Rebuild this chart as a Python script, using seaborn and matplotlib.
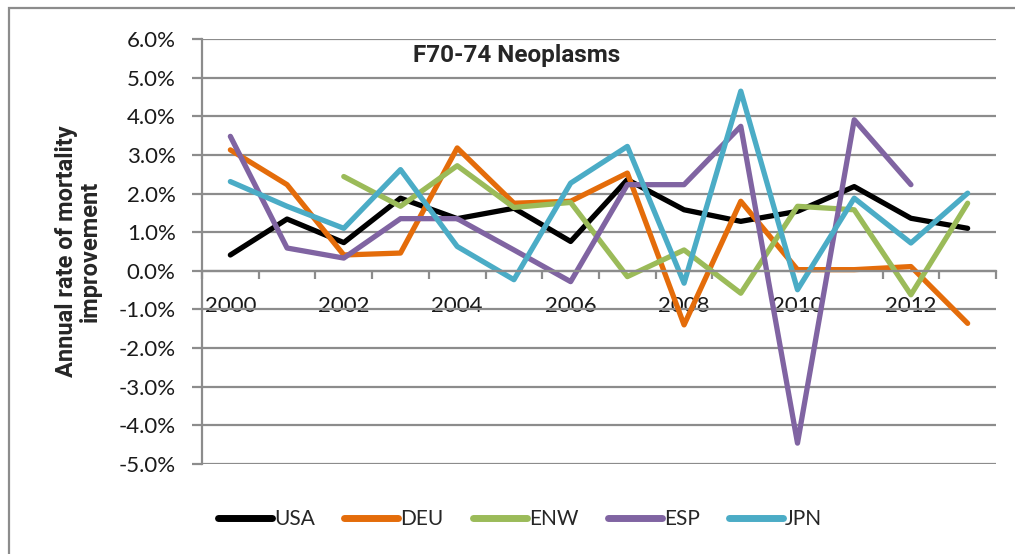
import numpy as np
import pandas as pd
import seaborn as sns
import matplotlib.pyplot as plt
from matplotlib.patches import Rectangle
from matplotlib.ticker import FuncFormatter, FixedLocator

years = list(range(2000, 2014))
usa = [0.41, 1.34, 0.73, 1.88, 1.35, 1.62, 0.76, 2.36, 1.58, 1.28, 1.54, 2.18, 1.36, 1.10]
deu = [3.13, 2.23, 0.41, 0.46, 3.18, 1.75, 1.80, 2.53, -1.40, 1.80, 0.03, 0.03, 0.11, -1.36]
enw = [np.nan, np.nan, 2.44, 1.67, 2.72, 1.64, 1.77, -0.15, 0.54, -0.58, 1.67, 1.58, -0.62, 1.75]
esp = [3.48, 0.59, 0.33, 1.35, 1.35, 0.54, -0.28, 2.23, 2.23, 3.74, -4.46, 3.91, 2.23, np.nan]
jpn = [2.31, 1.67, 1.10, 2.62, 0.63, -0.23, 2.27, 3.22, -0.32, 4.65, -0.49, 1.88, 0.72, 2.01]

countries = ["USA", "DEU", "ENW", "ESP", "JPN"]
colors = ["#000000", "#E46C0A", "#9BBB59", "#8064A2", "#4BACC6"]

df = pd.DataFrame({"USA": usa, "DEU": deu, "ENW": enw, "ESP": esp, "JPN": jpn})
df["pos"] = range(len(years))
long = df.melt(id_vars="pos", var_name="country", value_name="rate").dropna()

sns.set_style("white")
plt.rcParams["font.family"] = ["Lato", "DejaVu Sans"]
bold_font = ["Roboto", "DejaVu Sans"]

fig = plt.figure(figsize=(10.15, 5.54), dpi=100)
ax = fig.add_axes([202 / 1015, 1 - 464 / 554, (996 - 202) / 1015, (464 - 39) / 554])

sns.lineplot(data=long, x="pos", y="rate", hue="country", hue_order=countries,
             palette=colors, linewidth=3.8, ax=ax, legend=True)

ax.set_xlim(-0.5, len(years) - 0.5)
ax.set_ylim(-5, 6)
ax.set_yticks(np.arange(-5, 6.1, 1))
ax.yaxis.set_major_formatter(FuncFormatter(lambda v, p: f"{v:.1f}%"))
ax.grid(axis="y", color="#8C8C8C", linewidth=1.6)
ax.grid(axis="x", visible=False)
ax.set_axisbelow(True)

# x axis crossing at zero, tick marks between categories, labels every other year
ax.spines["bottom"].set_position(("data", 0))
for s in ["top", "right"]:
    ax.spines[s].set_visible(False)
for s in ["left", "bottom"]:
    ax.spines[s].set_color("#8C8C8C")
    ax.spines[s].set_linewidth(1.6)
ax.xaxis.set_major_locator(FixedLocator(np.arange(-0.5, len(years), 1)))
ax.xaxis.set_major_formatter(FuncFormatter(lambda v, p: ""))
ax.xaxis.set_minor_locator(FixedLocator(np.arange(0, len(years), 2)))
ax.set_xticklabels([str(y) for y in years[::2]], minor=True)
ax.tick_params(axis="x", which="major", direction="out", length=6, width=1.6, color="#8C8C8C", bottom=True)
ax.tick_params(axis="x", which="minor", length=0, pad=18, labelsize=16, labelcolor="#1a1a1a")
ax.tick_params(axis="y", direction="out", length=7, width=1.6, color="#8C8C8C", left=True,
               labelsize=16, labelcolor="#1a1a1a", pad=12)

ax.set_xlabel("")
ax.set_ylabel("Annual rate of mortality\nimprovement", fontsize=17, fontweight="bold",
              family=bold_font, labelpad=12, linespacing=1.05)
ax.text(0.396, 0.988, "F70-74 Neoplasms", transform=ax.transAxes, ha="center", va="top",
        fontsize=17.5, fontweight="bold", family=bold_font)

handles, labels = ax.get_legend_handles_labels()
ax.get_legend().remove()
for h in handles:
    h.set_linewidth(5)
    h.set_solid_capstyle("round")
fig.legend(handles, labels, loc="center", bbox_to_anchor=(520 / 1015, 1 - 519 / 554), ncol=5,
           frameon=False, fontsize=15, handlelength=2.6, handletextpad=0.1, columnspacing=1.4)

# chart area border
fig.patches.append(Rectangle((9 / 1015, -0.05), 1.1, 1 - 8 / 554 + 0.05, transform=fig.transFigure,
                             fill=False, edgecolor="#8C8C8C", linewidth=1.6, clip_on=False))

fig.savefig("out.png", dpi=100)
